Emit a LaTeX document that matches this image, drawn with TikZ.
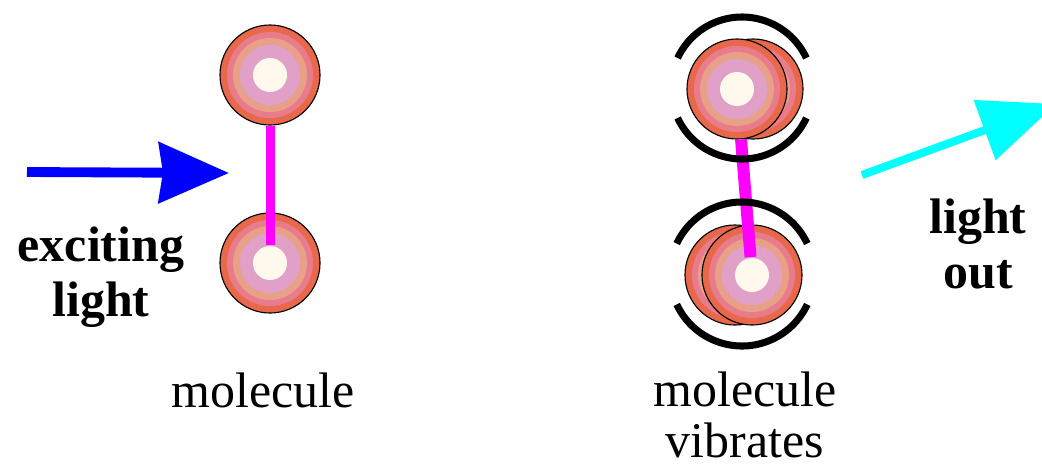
\documentclass[tikz,border=0pt]{standalone}
\usepackage{fontspec}
\setmainfont{Liberation Serif}
\usetikzlibrary{arrows.meta}
\definecolor{atomrim}{RGB}{232, 104, 76}
\definecolor{atompink}{RGB}{232, 124, 140}
\definecolor{atompeach}{RGB}{232, 160, 136}
\definecolor{atomlilac}{RGB}{224, 160, 200}
\definecolor{atomcore}{RGB}{255, 248, 236}
\definecolor{bondpink}{RGB}{255, 0, 255}
\definecolor{excitelight}{RGB}{0, 0, 255}
\definecolor{emitlight}{RGB}{0, 255, 255}
\tikzset{
    atom/.style={circle, draw=black, line width=0.8pt, fill=atomrim, minimum size=2.5cm, inner sep=0pt,
                 path picture={
                     \foreach \r/\c in {1.075/atompink, 0.925/atompeach, 0.75/atomlilac, 0.425/atomcore}
                         \fill[\c] (path picture bounding box.center) circle[radius=\r cm];
                 }},
    bond/.style={line width=6.4pt, bondpink},
    vib/.style={line width=5pt, black},
    inarrow/.style={-{Stealth[length=1.75cm, width=1.5cm, inset=0.1cm]}, line width=7pt, excitelight},
    outarrow/.style={-{Triangle[length=1.9cm, width=1.55cm]}, line width=5.7pt, emitlight},
    lbl/.style={font=\bfseries\fontsize{35.5}{39}\selectfont, align=center, inner sep=0pt},
    caption/.style={font=\fontsize{35.5}{35.6}\selectfont, align=center, inner sep=0pt},
}

\begin{document}
\begin{tikzpicture}[x=0.025cm, y=0.025cm]
    \useasboundingbox (0,0) rectangle (1042,-470);
    \clip (0,0) rectangle (1042,-470);

    % molecule at rest
    \node[atom] (lefttop) at (270,-75) {};
    \node[atom] (leftbot) at (270,-263) {};
    \draw[bond, shorten >=0.45cm] (lefttop) -- (leftbot.center);

    \coordinate (inbeg) at (27,-172);
    \coordinate (inend) at (229,-173);
    \draw[inarrow] (inbeg) -- (inend);

    % base anchor sits on the last line
    \node[lbl, anchor=base] (exciting) at (101,-316) {exciting\\light};
    \node[caption, anchor=base] (restcap) at (263,-407) {molecule};

    % vibrating molecule
    \node[atom] (vibtopghost) at (753,-89) {};
    \node[atom] (vibtop) at (737,-89) {};
    \node[atom] (vibbotghost) at (735,-275) {};
    \node[atom] (vibbot) at (752,-275) {};
    \draw[bond, line width=8.5pt, shorten >=0.45cm] (vibtop) -- (vibbot.center);

    \draw[vib] (742,-88) ++(25:71) arc[start angle=25, end angle=155, radius=71];
    \draw[vib] (742,-88) ++(205:71) arc[start angle=205, end angle=335, radius=71];
    \draw[vib] (742,-274) ++(25:72) arc[start angle=25, end angle=155, radius=72];
    \draw[vib] (742,-274) ++(205:72) arc[start angle=205, end angle=335, radius=72];

    \coordinate (outbeg) at (862,-175);
    \coordinate (outend) at (1056,-104);
    \draw[outarrow] (outbeg) -- (outend);

    \node[lbl, anchor=base] (lightout) at (978,-288) {light\\out};
    \node[caption, anchor=base] (vibcap) at (745,-457) {molecule\\vibrates};
\end{tikzpicture}
\end{document}
